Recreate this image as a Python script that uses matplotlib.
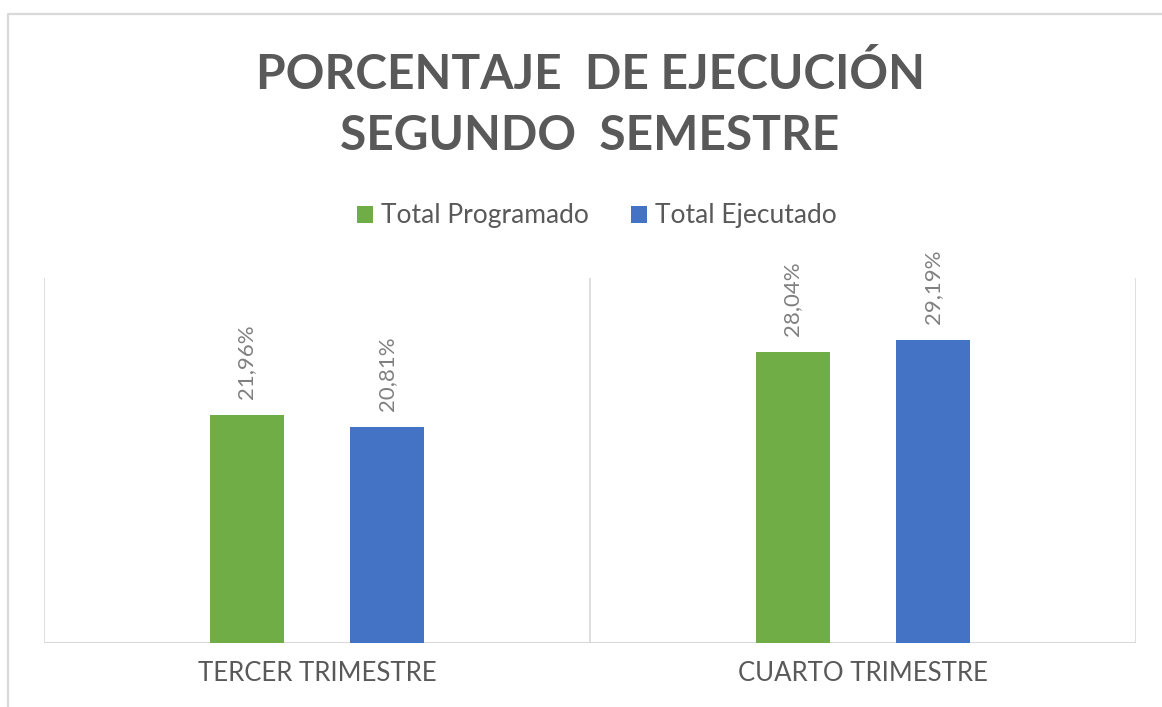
import matplotlib
matplotlib.use("Agg")
import matplotlib.pyplot as plt
from matplotlib.lines import Line2D

categories = ["TERCER TRIMESTRE", "CUARTO TRIMESTRE"]
series_names = ["Total Programado", "Total Ejecutado"]
programado = [21.96, 28.04]
ejecutado = [20.81, 29.19]
title_lines = ["PORCENTAJE  DE EJECUCIÓN", "SEGUNDO  SEMESTRE"]

GREEN = "#70AD47"
BLUE = "#4472C4"
TXT = "#595959"
LBL = "#808080"
GRID = "#D9D9D9"

plt.rcParams["font.family"] = ["Lato", "DejaVu Sans"]

W, H = 1162, 707
fig = plt.figure(figsize=(W / 100, H / 100), dpi=100)
ax = fig.add_axes([44 / W, 1 - 643 / H, (1136 - 44) / W, (643 - 278) / H])

offset = 0.129
width = 0.1355
xs = list(range(len(categories)))
b1 = ax.bar([x - offset for x in xs], programado, width, color=GREEN, label=series_names[0], zorder=3)
b2 = ax.bar([x + offset for x in xs], ejecutado, width, color=BLUE, label=series_names[1], zorder=3)

for bars, vals in ((b1, programado), (b2, ejecutado)):
    for rect, v in zip(bars, vals):
        ax.annotate(f"{v:.2f}".replace(".", ",") + "%",
                    (rect.get_x() + rect.get_width() / 2, v),
                    xytext=(0, 12), textcoords="offset points",
                    rotation=90, ha="center", va="bottom",
                    fontsize=16, color=LBL)

ax.set_xlim(-0.5, 1.5)
ax.set_ylim(0, 35.2)
for s in ax.spines.values():
    s.set_visible(False)
ax.set_yticks([])
ax.set_xticks(xs)
ax.set_xticklabels(categories, fontsize=18.5, color=TXT)
ax.tick_params(axis="x", length=0, pad=13)
ax.axhline(0, color=GRID, lw=1.5, zorder=2)
for xv in (-0.5, 0.5, 1.5):
    ax.axvline(xv, color=GRID, lw=1.2, zorder=1)

# title
fig.text(590 / W, 1 - 89 / H, title_lines[0], ha="center", va="baseline",
         fontsize=34.5, fontweight="bold", color=TXT)
fig.text(590 / W, 1 - 150 / H, title_lines[1], ha="center", va="baseline",
         fontsize=34.5, fontweight="bold", color=TXT)

# legend
fig.legend(handles=[b1, b2], labels=series_names, loc="center",
           bbox_to_anchor=(597 / W, 1 - 216 / H), ncol=2, frameon=False,
           fontsize=19, labelcolor=TXT, handlelength=0.6, handleheight=0.6,
           handletextpad=0.3, columnspacing=1.6)

# chart border (top and left visible)
fig.add_artist(Line2D([8 / W, 8 / W, 1.0], [0.0, 1 - 14 / H, 1 - 14 / H],
                      transform=fig.transFigure, color=GRID, lw=1.6))

fig.savefig("out.png", dpi=100)
